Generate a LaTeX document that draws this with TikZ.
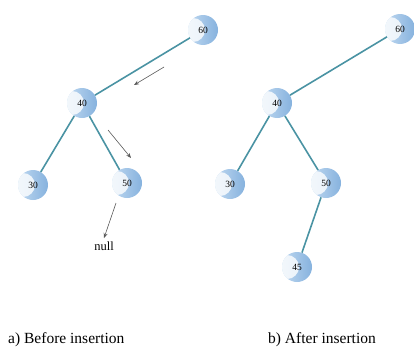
\documentclass[tikz,border=0pt]{standalone}
\usepackage{fontspec}
\setmainfont{Liberation Serif}
\usetikzlibrary{arrows.meta}
\definecolor{edgecol}{HTML}{4A93A3}
\definecolor{ballblue}{HTML}{86B2DE}
\definecolor{balllight}{HTML}{BFD8F0}
\begin{document}
\begin{tikzpicture}[x=1pt,y=-1pt,
  ball/.style={circle, minimum size=30pt, inner sep=0pt, font=\fontsize{9.5}{10}\selectfont,
    left color=balllight, right color=ballblue, draw=none,
    path picture={\fill[white,opacity=0.8] ([xshift=-10pt]path picture bounding box.center) circle (12pt);}},
  edge/.style={draw=edgecol, line width=1.6pt},
  hint/.style={draw=black!65, line width=0.6pt, -{Stealth[length=5pt,width=4pt]}},
  captext/.style={font=\fontsize{15.5}{17}\selectfont, anchor=base west, inner sep=0pt}]
\useasboundingbox (0,0) rectangle (414,348);
% a) before insertion
\node[ball] (a60) at (203,30) {60};
\node[ball] (a40) at (82,103) {40};
\node[ball] (a30) at (33,185) {30};
\node[ball] (a50) at (127,183) {50};
\node[font=\fontsize{12.5}{14}\selectfont] (anull) at (104,246) {null};
\draw[edge] (a60) -- (a40);
\draw[edge] (a40) -- (a30);
\draw[edge] (a40) -- (a50);
\coordinate (h1s) at (164,67); \coordinate (h1e) at (134,85);
\coordinate (h2s) at (108,130); \coordinate (h2e) at (131,158);
\coordinate (h3s) at (116,203);
\draw[hint] (h1s) -- (h1e);
\draw[hint] (h2s) -- (h2e);
\draw[hint] (h3s) -- (anull.north);
% b) after insertion
\node[ball] (b60) at (400,29) {60};
\node[ball] (b40) at (277,103) {40};
\node[ball] (b30) at (230,184) {30};
\node[ball] (b50) at (326,183) {50};
\node[ball] (b45) at (297,267) {45};
\draw[edge] (b60) -- (b40);
\draw[edge] (b40) -- (b30);
\draw[edge] (b40) -- (b50);
\draw[edge] (b50) -- (b45);
% captions
\node[captext] (capa) at (8,343) {a) Before insertion};
\node[captext] (capb) at (268,343) {b) After insertion};
\end{tikzpicture}
\end{document}
